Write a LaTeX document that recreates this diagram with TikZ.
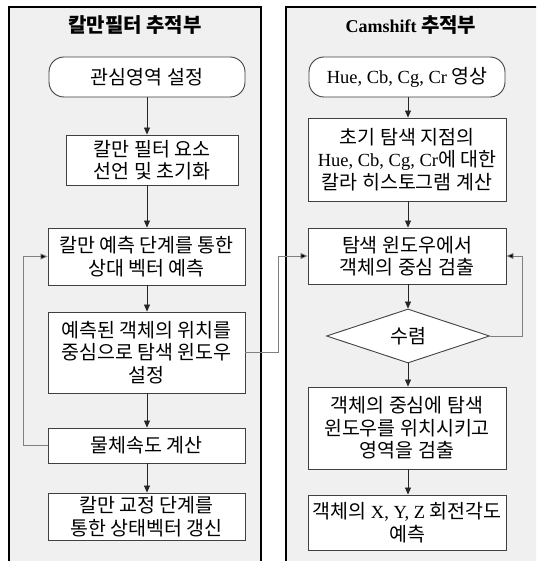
\documentclass[tikz,border=0pt]{standalone}
\usepackage{fontspec}
\setmainfont{Noto Sans CJK KR}
\newfontfamily\tnr{Liberation Serif}
\usetikzlibrary{shapes.geometric,arrows.meta}
\definecolor{panelfill}{HTML}{F0F0F0}
\definecolor{boxline}{HTML}{404040}
\definecolor{fbline}{HTML}{808080}
\newcommand{\lt}[1]{{\tnr\fontsize{18.5}{22.5}\selectfont #1}}
\newcommand{\ltt}[1]{{\tnr\fontsize{18}{22.5}\selectfont #1}}
\begin{document}
\begin{tikzpicture}[x=1pt,y=-1pt,
  font=\fontsize{19.5}{22.5}\selectfont,
  panel/.style={draw=black, line width=2pt, fill=panelfill},
  procbox/.style={draw=boxline, fill=white, line width=0.9pt, align=center, inner sep=0pt},
  termbox/.style={procbox, rounded corners=15pt},
  decbox/.style={procbox, diamond},
  title/.style={font=\fontsize{20}{22.5}\selectfont\bfseries, inner sep=0pt},
  arr/.style={draw=black!85, line width=0.8pt, -{Triangle[length=7pt,width=6pt]}},
  fb/.style={draw=fbline, line width=0.8pt, -{Triangle[length=7pt,width=6pt,fill=black]}}]
\useasboundingbox (0,0) rectangle (536,561);
\clip (0,0) rectangle (536,561);
\draw[panel] (9,7) rectangle (261,600);
\draw[panel] (286,7) rectangle (600,600);
\node[title] (lt) at (135,25) {칼만필터 추적부};
\node[title] (rt) at (411,25) {\ltt{Camshift} 추적부};
% left column
\node[termbox, minimum width=196, minimum height=40] (t1) at (147,77) {관심영역 설정};
\node[procbox, minimum width=172, minimum height=50] (b1) at (152,160) {칼만 필터 요소\\선언 및 초기화};
\node[procbox, minimum width=197, minimum height=57] (b2) at (146.5,256.5) {칼만 예측 단계를 통한\\상대 벡터 예측};
\node[procbox, minimum width=197, minimum height=81] (b3) at (146.5,352.5) {예측된 객체의 위치를\\중심으로 탐색 윈도우\\설정};
\node[procbox, minimum width=197, minimum height=35] (b4) at (146.5,445.5) {물체속도 계산};
\node[procbox, minimum width=197, minimum height=47] (b5) at (146.5,516.5) {칼만 교정 단계를\\통한 상태벡터 갱신};
% right column
\node[termbox, minimum width=196, minimum height=40] (t2) at (407,77) {\lt{Hue, Cb, Cg, Cr} 영상};
\node[procbox, minimum width=198, minimum height=83] (c1) at (407,159.5) {초기 탐색 지점의\\\lt{Hue, Cb, Cg, Cr}에 대한\\칼라 히스토그램 계산};
\node[procbox, minimum width=198, minimum height=56] (c2) at (407,256) {탐색 윈도우에서\\객체의 중심 검출};
\node[decbox, minimum width=163, minimum height=54] (d) at (408,336) {수렴};
\node[procbox, minimum width=198, minimum height=82] (c3) at (407,428) {객체의 중심에 탐색\\윈도우를 위치시키고\\영역을 검출};
\node[procbox, minimum width=198, minimum height=55] (c4) at (407,522.5) {객체의 \lt{X, Y, Z} 회전각도\\예측};
% arrows left
\draw[arr] (t1.south) -- (t1.south |- b1.north);
\draw[arr] (t1.south |- b1.south) -- (t1.south |- b2.north);
\draw[arr] (t1.south |- b2.south) -- (t1.south |- b3.north);
\draw[arr] (t1.south |- b3.south) -- (t1.south |- b4.north);
\draw[arr] (t1.south |- b4.south) -- (t1.south |- b5.north);
\draw[fb] (b4.west) -- ++(-24,0) |- (b2.west);
% arrows right
\draw[arr] (d.north |- t2.south) -- (d.north |- c1.north);
\draw[arr] (d.north |- c1.south) -- (d.north |- c2.north);
\draw[arr] (d.north |- c2.south) -- (d.north);
\draw[arr] (d.south) -- (d.south |- c3.north);
\draw[arr] (d.south |- c3.south) -- (d.south |- c4.north);
\draw[fb] (d.east) -- ++(32,0) |- (c2.east);
% cross
\draw[fb] (b3.east) -- ++(33,0) |- (c2.west);
\end{tikzpicture}
\end{document}
